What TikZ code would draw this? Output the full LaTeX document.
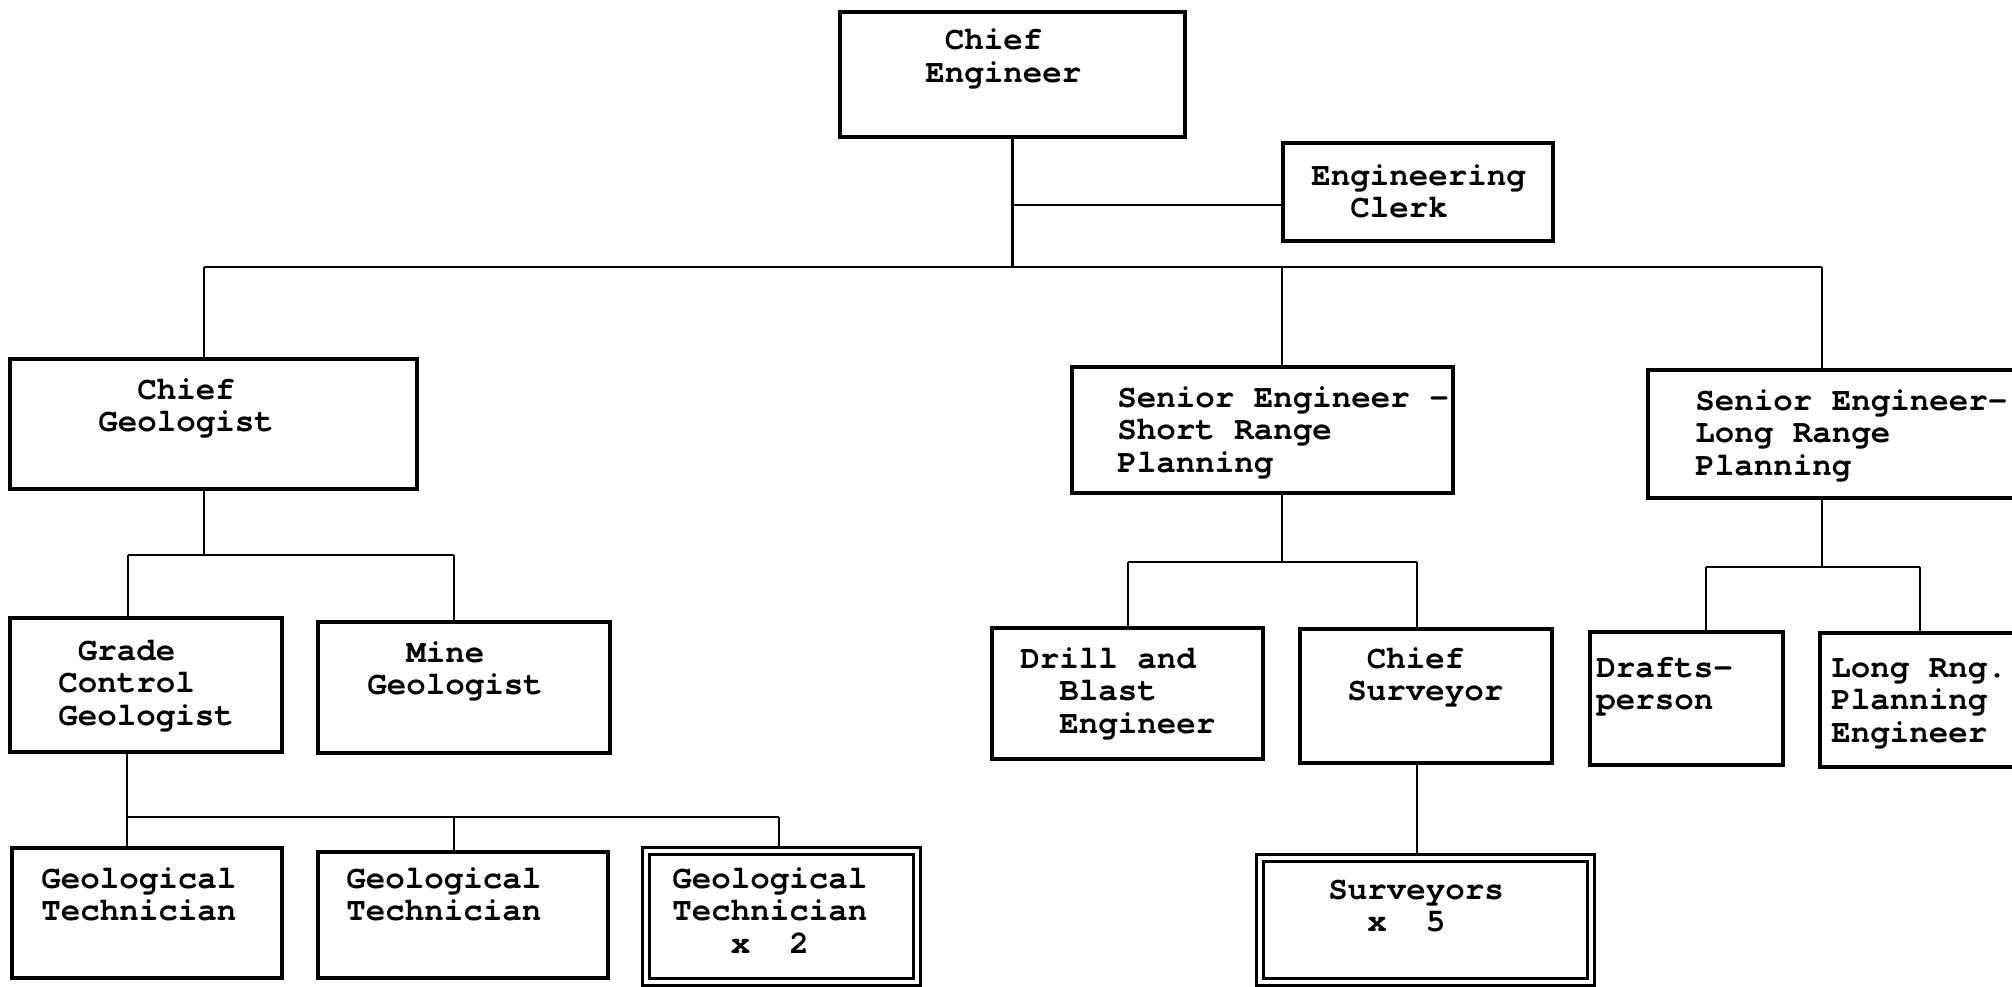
\documentclass[tikz,border=0pt]{standalone}
\usepackage{fontspec}
\setmainfont{texgyrecursor}[Extension=.otf, UprightFont=*-regular, BoldFont=*-bold]
\usetikzlibrary{fit,backgrounds}
\newcommand\Lbox[1]{\vtop{\tabskip=0pt\halign{##\hfil\cr#1\crcr}}}
\tikzset{
  box/.style={draw, line width=1.9pt, inner sep=0pt},
  dbox/.style={draw, line width=1.4pt, double, double distance=2.4pt, inner sep=0pt},
  conn/.style={line width=1.6pt},
  lbl/.style={anchor=base west, inner sep=0pt, font=\fontsize{18.5pt}{18.5pt}\selectfont\bfseries},
}
\begin{document}
\begin{tikzpicture}[x=0.02cm, y=0.02cm]
\useasboundingbox (0,0) rectangle (2012,-987);
\clip (0,0) rectangle (2012,-987);
% boxes
\node[box, fit={(840,-12)(1185,-137)}] (ce) {};
\node[box, fit={(1283,-143)(1553,-241)}] (clerk) {};
\node[box, fit={(10,-359)(417,-489)}] (cg) {};
\node[box, fit={(10,-618)(282,-752)}] (gcg) {};
\node[box, fit={(318,-622)(610,-753)}] (mg) {};
\node[box, fit={(12,-848)(282,-978)}] (gt1) {};
\node[box, fit={(318,-852)(608,-978)}] (gt2) {};
\node[dbox, fit={(646,-851)(917,-982)}] (gt3) {};
\node[box, fit={(1072,-367)(1453,-493)}] (sr) {};
\node[box, fit={(992,-628)(1263,-759)}] (db) {};
\node[box, fit={(1300,-629)(1552,-763)}] (cs) {};
\node[dbox, fit={(1260,-858)(1591,-982)}] (sv) {};
\node[box, fit={(1648,-370)(2040,-498)}] (lr) {};
\node[box, fit={(1590,-632)(1783,-765)}] (dp) {};
\node[box, fit={(1820,-633)(2040,-767)}] (lrpe) {};
% labels
\node[lbl] (ce-t) at (925,-50) {\Lbox{~Chief\cr Engineer}};
\node[lbl] (clerk-t) at (1311,-185) {\Lbox{Engineering\cr ~~Clerk}};
\node[lbl] (cg-t) at (98,-399) {\Lbox{~~Chief\cr Geologist}};
\node[lbl] (gcg-t) at (58,-660) {\Lbox{~Grade\cr Control\cr Geologist}};
\node[lbl] (mg-t) at (367,-662) {\Lbox{~~Mine\cr Geologist}};
\node[lbl] (gt1-t) at (41,-888) {\Lbox{Geological\cr Technician}};
\node[lbl] (gt2-t) at (346,-888) {\Lbox{Geological\cr Technician}};
\node[lbl] (gt3-t) at (672,-888) {\Lbox{Geological\cr Technician\cr ~~~x~~2}};
\node[lbl] (sr-t) at (1117,-407) {\Lbox{Senior Engineer -\cr Short Range\cr Planning}};
\node[lbl] (db-t) at (1020,-668) {\Lbox{Drill and\cr ~~Blast\cr ~~Engineer}};
\node[lbl] (cs-t) at (1347,-668) {\Lbox{~Chief\cr Surveyor}};
\node[lbl] (sv-t) at (1328,-899) {\Lbox{Surveyors\cr ~~x~~5}};
\node[lbl] (lr-t) at (1695,-410) {\Lbox{Senior Engineer-\cr Long Range\cr Planning}};
\node[lbl] (dp-t) at (1596,-677) {\Lbox{Drafts-\cr person}};
\node[lbl] (lrpe-t) at (1831,-677) {\Lbox{Long Rng.\cr Planning\cr Engineer}};
% junction coordinates
\coordinate (cj) at (ce.south |- 0,-205);
\coordinate (busL) at (204,-267);
\coordinate (busM) at (1282,-267);
\coordinate (busR) at (1822,-267);
\coordinate (cgj) at (204,-555);
\coordinate (cgL) at (128,-555);
\coordinate (cgR) at (454,-555);
\coordinate (gcgj) at (127,-817);
\coordinate (t2) at (454,-817);
\coordinate (t3) at (779,-817);
\coordinate (srj) at (1282,-562);
\coordinate (srL) at (1128,-562);
\coordinate (srR) at (1417,-562);
\coordinate (lrj) at (1822,-567);
\coordinate (lrL) at (1706,-567);
\coordinate (lrR) at (1920,-567);
\begin{scope}[on background layer]
\begin{scope}[conn]
\draw (ce.south) -- (ce.south |- busL);
\draw (cj) -- (cj -| clerk.west);
\draw (busL) -- (busR);
\draw (busL) -- (busL |- cg.north);
\draw (busM) -- (busM |- sr.north);
\draw (busR) -- (busR |- lr.north);
\draw (cgj |- cg.south) -- (cgj);
\draw (cgL) -- (cgR);
\draw (cgL) -- (cgL |- gcg.north);
\draw (cgR) -- (cgR |- mg.north);
\draw (gcgj |- gcg.south) -- (gcgj);
\draw (gcgj) -- (t3);
\draw (gcgj) -- (gcgj |- gt1.north);
\draw (t2) -- (t2 |- gt2.north);
\draw (t3) -- (t3 |- gt3.north);
\draw (srj |- sr.south) -- (srj);
\draw (srL) -- (srR);
\draw (srL) -- (srL |- db.north);
\draw (srR) -- (srR |- cs.north);
\draw (srR |- cs.south) -- (srR |- sv.north);
\draw (lrj |- lr.south) -- (lrj);
\draw (lrL) -- (lrR);
\draw (lrL) -- (lrL |- dp.north);
\draw (lrR) -- (lrR |- lrpe.north);
\end{scope}
\end{scope}
\end{tikzpicture}
\end{document}
